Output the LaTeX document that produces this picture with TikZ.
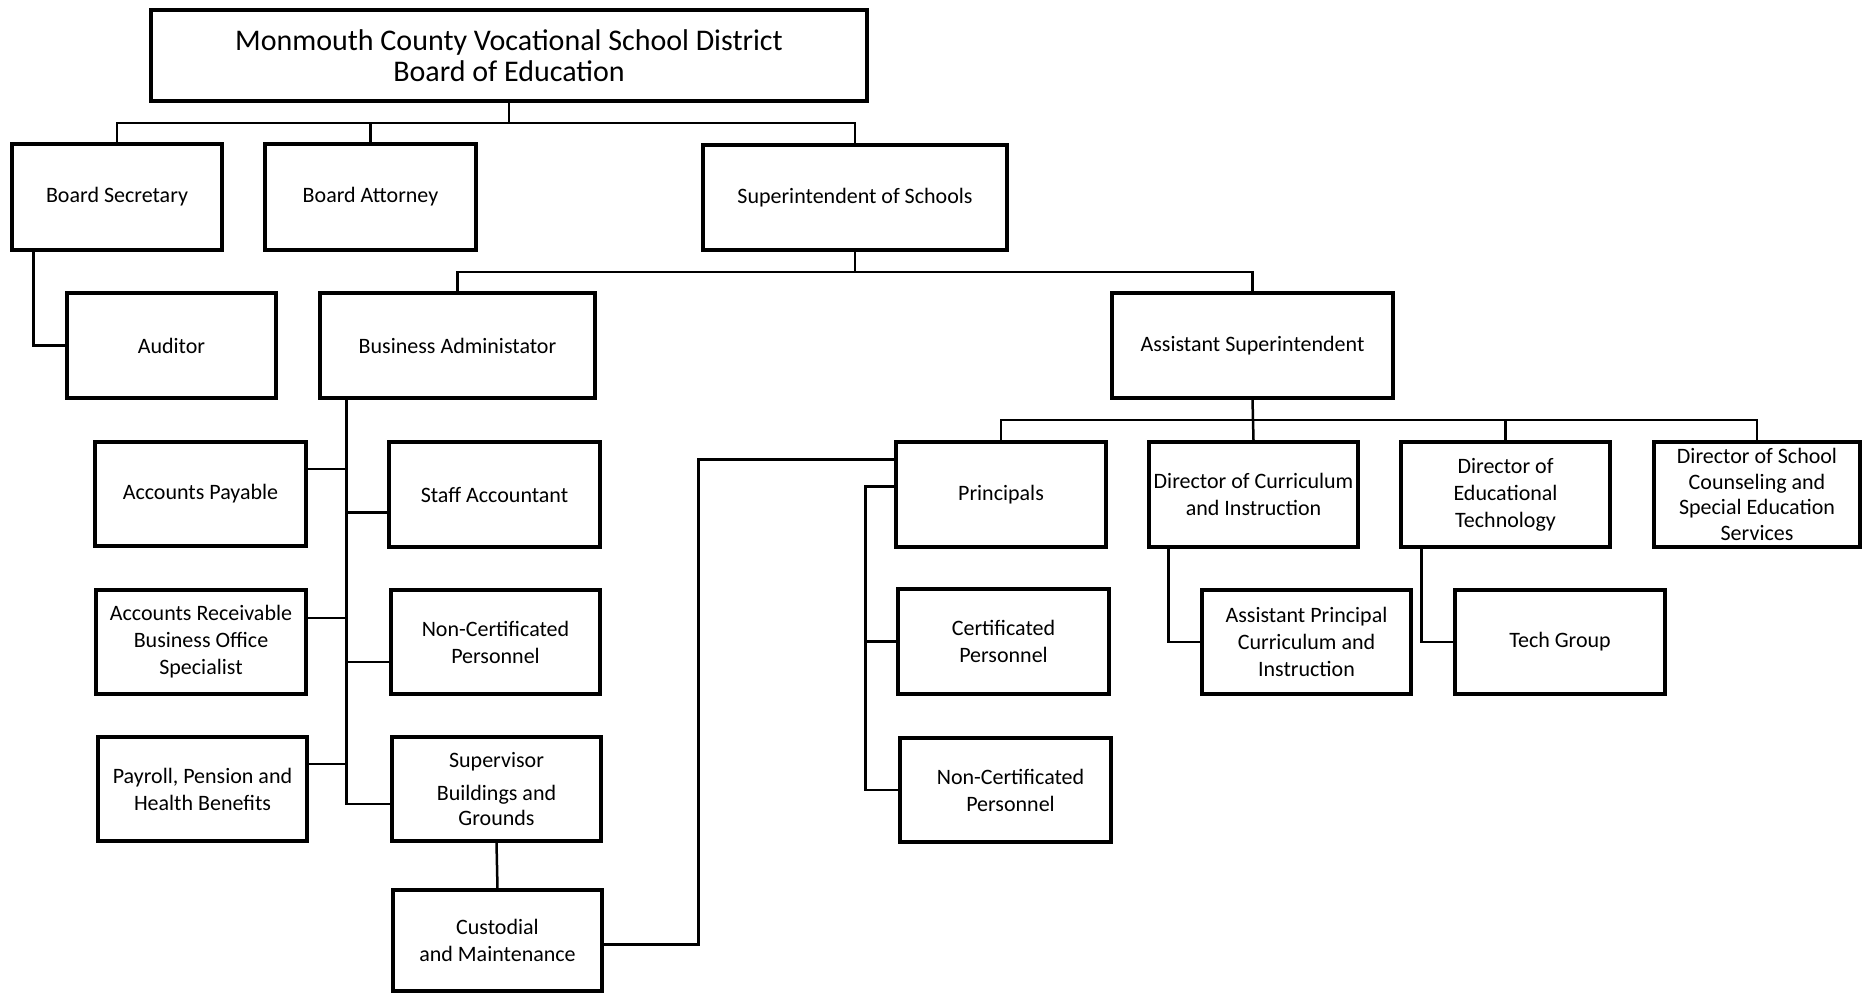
\documentclass[tikz,border=0pt]{standalone}
\usepackage{fontspec}
\setmainfont{Carlito}
\usetikzlibrary{calc}
\begin{document}
\begin{tikzpicture}[x=1pt,y=-1pt,
  box/.style={draw, line width=3.1pt, inner sep=0pt, align=center,
    font=\fontsize{22}{27}\selectfont},
  wire/.style={line width=2.5pt},
  bw/.style={minimum width=#1},
  bh/.style={minimum height=#1}]
\fill[white] (0,0) rectangle (1862,994);
\useasboundingbox (0,0) rectangle (1862,994);
% nodes
\node[box, bw=716, bh=91, font=\fontsize{30}{31}\selectfont] (top) at (509,55.5)
  {Monmouth County Vocational School District\\Board of Education};
\node[box, bw=210, bh=106] (bsec) at (117,197) {\raisebox{-1pt}{Board Secretary}};
\node[box, bw=211, bh=106] (batt) at (370.5,197) {\raisebox{-1pt}{Board Attorney}};
\node[box, bw=304, bh=105] (sup) at (855,197.5) {Superintendent of Schools};
\node[box, bw=209, bh=105] (aud) at (171.5,345.5) {Auditor};
\node[box, bw=275, bh=105] (ba) at (457.5,345.5) {Business Administator};
\node[box, bw=281, bh=105] (asup) at (1252.5,345.5) {\raisebox{-2pt}{Assistant Superintendent}};
\node[box, bw=211, bh=104] (ap) at (200.5,494) {Accounts Payable};
\node[box, bw=211, bh=105] (sa) at (494.5,494.5) {Staff Accountant};
\node[box, bw=210, bh=104] (ar) at (201,642) {Accounts Receivable\\Business Office\\Specialist};
\node[box, bw=209, bh=104] (nc) at (495.5,642) {Non-Certificated\\Personnel};
\node[box, bw=209, bh=104] (pay) at (202.5,789) {Payroll, Pension and\\Health Benefits};
\node[box, bw=209, bh=104] (supv) at (496.5,789) {Supervisor\\[6pt]Buildings and\\[-2pt]Grounds};
\node[box, bw=209, bh=101] (cust) at (497.5,940.5) {Custodial\\and Maintenance};
\node[box, bw=210, bh=105] (prin) at (1001,494.5) {Principals};
\node[box, bw=211, bh=105] (cert) at (1003.5,641.5) {Certificated\\Personnel};
\node[box, bw=211, bh=104] (nc2) at (1005.5,790) {\hspace*{10pt}Non-Certificated\\\hspace*{10pt}Personnel};
\node[box, bw=209, bh=105] (dci) at (1253.5,494.5) {Director of Curriculum\\and Instruction};
\node[box, bw=209, bh=105] (det) at (1505.5,494.5) {Director of\\Educational\\Technology};
\node[box, bw=206, bh=105, font=\fontsize{22}{25.5}\selectfont] (dsc) at (1757,494.5) {Director of School\\Counseling and\\Special Education\\Services};
\node[box, bw=209, bh=104] (apci) at (1306.5,642) {Assistant Principal\\Curriculum and\\Instruction};
\node[box, bw=210, bh=104] (tg) at (1560,642) {Tech Group};
% bus levels
\coordinate (b1) at (0,123);
\coordinate (b2) at (0,272);
\coordinate (b3) at (0,420);
% board level
\draw[wire] (top.south) -- (top.south |- b1);
\draw[wire] (bsec.north) |- (sup.north |- b1) -- (sup.north);
\draw[wire] (batt.north) -- (batt.north |- b1);
\draw[wire] ($(bsec.south west)+(23,0)$) |- (aud.west);
% superintendent level
\draw[wire] (sup.south) -- (sup.south |- b2);
\draw[wire] (ba.north) |- (asup.north |- b2) -- (asup.north);
% business administrator spine
\coordinate (sp) at ($(ba.south west)+(28,0)$);
\draw[wire] (sp) |- ([yshift=-15pt]supv.west);
\draw[wire] ([yshift=25pt]ap.east) -- ([yshift=25pt]ap.east -| sp);
\draw[wire] ([yshift=24pt]ar.east) -- ([yshift=24pt]ar.east -| sp);
\draw[wire] ([yshift=25pt]pay.east) -- ([yshift=25pt]pay.east -| sp);
\draw[wire] ([yshift=-18pt]sa.west) -- ([yshift=-18pt]sa.west -| sp);
\draw[wire] ([yshift=-20pt]nc.west) -- ([yshift=-20pt]nc.west -| sp);
\draw[wire] (supv.south) -- (cust.north);
% custodial to principals
\draw[wire] ([yshift=-4pt]cust.east) -- ++(95,0) |- ([yshift=35pt]prin.west);
% assistant superintendent level
\draw[wire] (asup.south) -- (dci.north);
\draw[wire] (prin.north) |- (dsc.north |- b3) -- (dsc.north);
\draw[wire] (det.north) -- (det.north |- b3);
% principals children
\draw[wire] ([yshift=8pt]prin.west) -- ++(-29,0) |- (nc2.west);
\draw[wire] (cert.west) -- ++(-31,0);
% directors' children
\draw[wire] ($(dci.south west)+(21,0)$) |- (apci.west);
\draw[wire] ($(det.south west)+(22,0)$) |- (tg.west);
\end{tikzpicture}
\end{document}
